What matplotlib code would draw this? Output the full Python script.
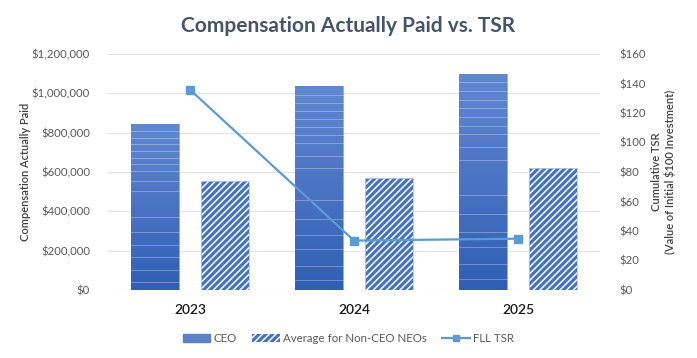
import matplotlib
matplotlib.use("Agg")
import matplotlib.pyplot as plt
import numpy as np
import matplotlib.patches as mpatches
from matplotlib.lines import Line2D
from matplotlib.ticker import FuncFormatter, MultipleLocator

plt.rcParams['font.family'] = ['Lato', 'DejaVu Sans']
plt.rcParams['hatch.linewidth'] = 2.3

years = ['2023', '2024', '2025']
ceo_cap = [842000, 1035000, 1100000]
neo_cap = [552000, 572000, 622000]
tsr = [135.8, 33.5, 34.8]

fig = plt.figure(figsize=(6.97, 3.58), dpi=100)
ax = fig.add_axes([108/697, 68/358, 492/697, 236/358])
ax2 = ax.twinx()

x = np.arange(len(years))
width = 0.29
off = 0.215

blue = '#4472c4'
bars = ax.bar(x - off, ceo_cap, width, color=blue, edgecolor='#8faadc', linewidth=0.6, zorder=2)
# vertical gradient with faint horizontal streaks for the CEO bars
grad = np.linspace(0, 1, 256).reshape(-1, 1)
cmap = matplotlib.colors.LinearSegmentedColormap.from_list('g', ['#2f5fb3', '#4b73c4', '#6088cf'])
for b in bars:
    bx, by, bw, bh = b.get_x(), b.get_y(), b.get_width(), b.get_height()
    im = ax.imshow(grad, extent=[bx, bx + bw, by, by + bh], origin='lower', cmap=cmap,
                   aspect='auto', zorder=2.1)
    im.set_clip_path(b)
    for frac in [0.05, 0.12, 0.2, 0.27, 0.35, 0.44, 0.6, 0.66, 0.72, 0.76, 0.8, 0.84, 0.88, 0.92, 0.96]:
        ax.plot([bx, bx + bw], [by + bh * frac] * 2, color='white', alpha=0.3, lw=0.7, zorder=2.2)

ax.bar(x + off, neo_cap, width, color='white', edgecolor=blue, hatch='/////',
       linewidth=0, zorder=2)
ax.bar(x + off, neo_cap, width, fill=False, edgecolor='#b4c7e7', linewidth=0.6, zorder=2.3)

ax.set_xlim(-0.5, 2.5)
ax.set_ylim(0, 1200000)
ax.yaxis.set_major_locator(MultipleLocator(200000))
ax.yaxis.set_major_formatter(FuncFormatter(lambda v, p: '${:,.0f}'.format(v)))
ax.set_xticks(x)
ax.set_xticklabels(years)
ax.grid(axis='y', color='#e3e3e3', linewidth=0.8, zorder=0)
ax.set_axisbelow(True)

ax2.plot(x, tsr, color='#5b9bd5', linewidth=1.6, marker='s', markersize=6, zorder=5)
ax2.set_ylim(0, 160)
ax2.yaxis.set_major_locator(MultipleLocator(20))
ax2.yaxis.set_major_formatter(FuncFormatter(lambda v, p: '${:,.0f}'.format(v)))

for a in (ax, ax2):
    for s in a.spines.values():
        s.set_visible(False)
    a.tick_params(length=0, labelsize=8.2, labelcolor='#595959')
ax.tick_params(axis='x', labelsize=10, labelcolor='#1a1a1a', pad=10)
for t in ax.get_xticklabels():
    t.set_fontweight('semibold')
ax.tick_params(axis='y', pad=13)
ax2.tick_params(axis='y', pad=14)

ax.set_ylabel('Compensation Actually Paid', fontsize=8, color='#404040',
              fontweight='semibold')
ax.yaxis.set_label_coords(-0.156, 0.5)
ax2.set_ylabel('Cumulative TSR\n(Value of Initial $100 Investment)', fontsize=8,
               color='#404040', fontweight='semibold')
ax2.yaxis.set_label_coords(1.104, 0.5)

fig.suptitle('Compensation Actually Paid vs. TSR', fontsize=15, fontweight='bold',
             color='#44546a', y=0.955)

handles = [mpatches.Patch(facecolor='#5b84c8', edgecolor='#5b84c8', label='CEO'),
           mpatches.Patch(facecolor='white', edgecolor=blue, hatch='/////', linewidth=0,
                          label='Average for Non-CEO NEOs'),
           Line2D([0], [0], color='#5b9bd5', marker='s', markersize=5, lw=1.6, label='FLL TSR')]
fig.legend(handles=handles, loc='lower center', bbox_to_anchor=(0.5, 0.01), ncol=3,
           frameon=False, fontsize=8.3, labelcolor='#595959', handlelength=2.4,
           handleheight=0.7, handletextpad=0.3, columnspacing=1.3)

fig.savefig('out.png', dpi=100)
